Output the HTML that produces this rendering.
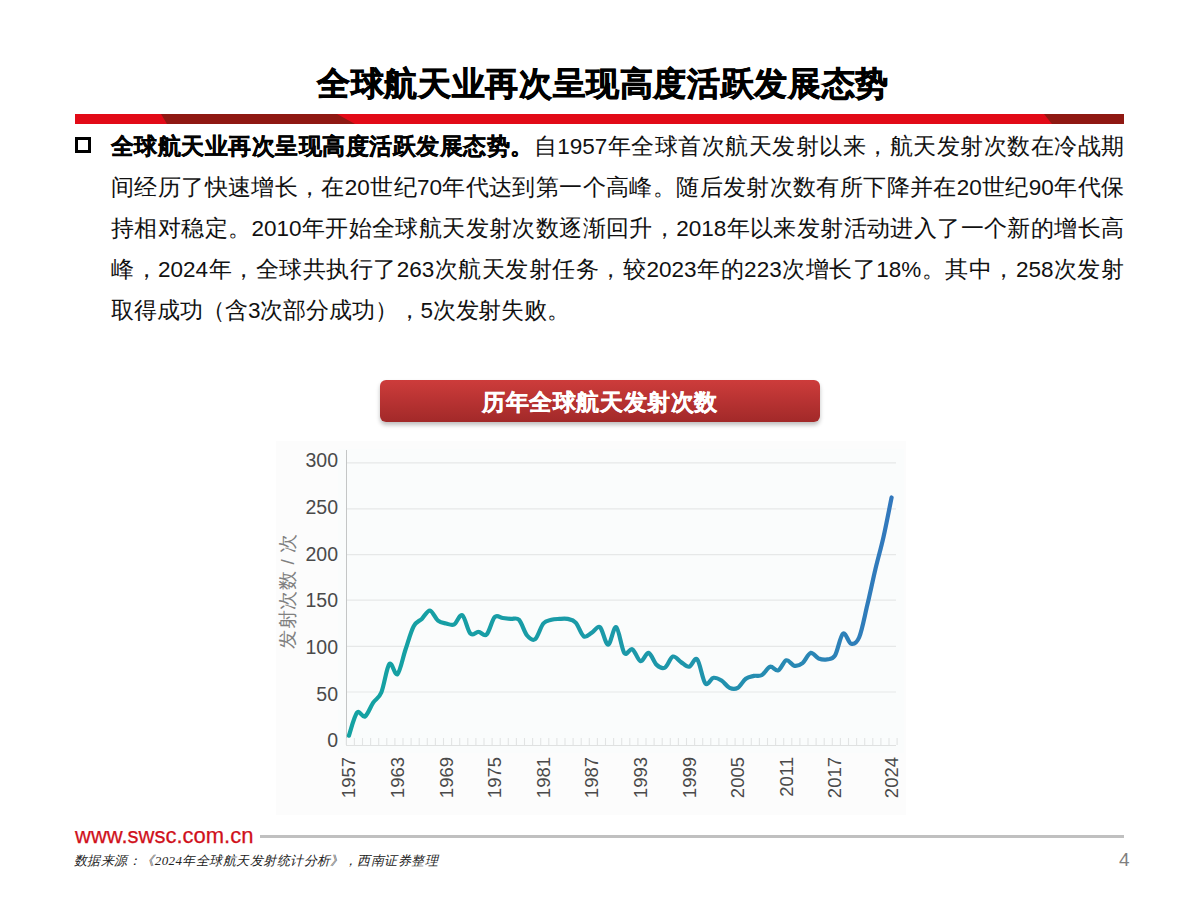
<!DOCTYPE html>
<html><head><meta charset="utf-8">
<style>
html,body{margin:0;padding:0;background:#fff;}
body{width:1200px;height:900px;position:relative;overflow:hidden;font-family:"Liberation Sans",sans-serif;color:#000;}
.abs{position:absolute;}
#title{left:3px;width:1200px;top:59px;text-align:center;font-size:33px;letter-spacing:0.62px;font-weight:bold;line-height:50px;-webkit-text-stroke:0.7px #000;white-space:nowrap;}
#bullet{left:75px;top:137px;width:10px;height:10px;border:3px solid #000;}
.ln{position:absolute;left:111px;width:1013px;font-size:22.5px;line-height:41px;white-space:nowrap;text-align:justify;text-align-last:justify;color:#111;}
.ln b{-webkit-text-stroke:0.35px #000;}
.ln.last{text-align:left;text-align-last:left;}
#cbox{left:380px;top:380px;width:440px;height:42px;border-radius:6px;background:linear-gradient(#cd3c3b,#a22929);box-shadow:0 3px 4px rgba(0,0,0,.25);color:#fff;font-weight:bold;font-size:23px;letter-spacing:0.6px;line-height:44px;-webkit-text-stroke:0.3px #fff;text-align:center;white-space:nowrap;}
#www{left:75px;top:822px;font-size:22px;-webkit-text-stroke:0.25px #d0111b;line-height:28px;color:#d0111b;white-space:nowrap;}
#hr{left:260px;top:835px;width:864px;height:3px;background:#c0c0c0;}
#src{left:74px;top:850px;font-size:13px;letter-spacing:0.45px;line-height:22px;font-style:italic;color:#222;white-space:nowrap;font-family:"Liberation Serif",serif;}
#pg{left:1119px;top:849px;font-size:19px;line-height:22px;color:#7f7f7f;}
</style></head><body>
<div id="title" class="abs">全球航天业再次呈现高度活跃发展态势</div>
<svg class="abs" style="left:0;top:0" width="1200" height="130">
<polygon points="75,114 1124,114 1124,124 75,124" fill="#e20a17"/>
<polygon points="161,114 337,114 355,124 167,124" fill="#8f1812"/>
<polygon points="1044,114 1124,114 1124,124 1052,124" fill="#8f1812"/>
</svg>
<div id="bullet" class="abs"></div>
<div class="ln" style="top:126px"><b>全球航天业再次呈现高度活跃发展态势。</b>自1957年全球首次航天发射以来，航天发射次数在冷战期</div>
<div class="ln" style="top:167px">间经历了快速增长，在20世纪70年代达到第一个高峰。随后发射次数有所下降并在20世纪90年代保</div>
<div class="ln" style="top:208px">持相对稳定。2010年开始全球航天发射次数逐渐回升，2018年以来发射活动进入了一个新的增长高</div>
<div class="ln" style="top:249px">峰，2024年，全球共执行了263次航天发射任务，较2023年的223次增长了18%。其中，258次发射</div>
<div class="ln last" style="top:290px;letter-spacing:-0.15px">取得成功（含3次部分成功），5次发射失败。</div>
<div id="cbox" class="abs">历年全球航天发射次数</div>
<svg class="abs" style="left:0;top:0" width="1200" height="900">
<defs><linearGradient id="lg" gradientUnits="userSpaceOnUse" x1="349" y1="0" x2="892" y2="0">
<stop offset="0" stop-color="#14a2a2"/><stop offset="0.6" stop-color="#1d97aa"/><stop offset="0.85" stop-color="#2a86b5"/><stop offset="1" stop-color="#3278bd"/></linearGradient></defs>
<rect x="276" y="441" width="630" height="374" fill="#fcfcfc"/><rect x="338" y="449" width="566" height="304" fill="#fafcfc"/>
<g stroke="#e6e8e8" stroke-width="1.2">
<line x1="347" y1="692" x2="896" y2="692"/>
<line x1="347" y1="646.3" x2="896" y2="646.3"/>
<line x1="347" y1="600.2" x2="896" y2="600.2"/>
<line x1="347" y1="554.7" x2="896" y2="554.7"/>
<line x1="347" y1="508.8" x2="896" y2="508.8"/>
<line x1="347" y1="462.9" x2="896" y2="462.9"/>
</g>
<line x1="346.5" y1="450" x2="346.5" y2="746" stroke="#c4c6c6" stroke-width="1"/>
<line x1="346" y1="745.5" x2="896" y2="745.5" stroke="#dfe1e1" stroke-width="1.2"/>
<path id="ticks" d="M346.3 738V745 M354.4 738V745 M362.5 738V745 M370.6 738V745 M378.7 738V745 M386.8 738V745 M394.9 738V745 M403.0 738V745 M411.1 738V745 M419.2 738V745 M427.3 738V745 M435.4 738V745 M443.5 738V745 M451.6 738V745 M459.7 738V745 M467.8 738V745 M475.9 738V745 M484.0 738V745 M492.1 738V745 M500.2 738V745 M508.3 738V745 M516.4 738V745 M524.5 738V745 M532.6 738V745 M540.7 738V745 M548.8 738V745 M556.9 738V745 M565.0 738V745 M573.1 738V745 M581.2 738V745 M589.3 738V745 M597.4 738V745 M605.5 738V745 M613.6 738V745 M621.7 738V745 M629.8 738V745 M637.9 738V745 M646.0 738V745 M654.1 738V745 M662.2 738V745 M670.3 738V745 M678.4 738V745 M686.5 738V745 M694.6 738V745 M702.7 738V745 M710.8 738V745 M718.9 738V745 M727.0 738V745 M735.1 738V745 M743.2 738V745 M751.3 738V745 M759.4 738V745 M767.5 738V745 M775.6 738V745 M783.7 738V745 M791.8 738V745 M799.9 738V745 M808.0 738V745 M816.1 738V745 M824.2 738V745 M832.3 738V745 M840.4 738V745 M848.5 738V745 M856.6 738V745 M864.7 738V745 M872.8 738V745 M880.9 738V745 M889.0 738V745 M897.1 738V745" stroke="#e2e4e4" stroke-width="1.1"/>
<g font-size="19.5" fill="#4a4a4a" text-anchor="end">
<text x="338" y="467.2">300</text><text x="338" y="514">250</text><text x="338" y="560.6">200</text><text x="338" y="607.1">150</text><text x="338" y="653.8">100</text><text x="338" y="701">50</text><text x="338" y="746.8">0</text>
</g>
<text transform="translate(293.8,591) rotate(-90)" text-anchor="middle" font-size="19" letter-spacing="0.6" fill="#808080">发射次数 / 次</text>
<g font-size="18.5" fill="#4a4a4a" text-anchor="end"><text transform="translate(348.9,757) rotate(-90)" dy="6.5">1957</text><text transform="translate(397.5,757) rotate(-90)" dy="6.5">1963</text><text transform="translate(446.1,757) rotate(-90)" dy="6.5">1969</text><text transform="translate(494.7,757) rotate(-90)" dy="6.5">1975</text><text transform="translate(543.3,757) rotate(-90)" dy="6.5">1981</text><text transform="translate(591.9,757) rotate(-90)" dy="6.5">1987</text><text transform="translate(640.5,757) rotate(-90)" dy="6.5">1993</text><text transform="translate(689.1,757) rotate(-90)" dy="6.5">1999</text><text transform="translate(737.7,757) rotate(-90)" dy="6.5">2005</text><text transform="translate(786.3,757) rotate(-90)" dy="6.5">2011</text><text transform="translate(834.9,757) rotate(-90)" dy="6.5">2017</text><text transform="translate(891.6,757) rotate(-90)" dy="6.5">2024</text></g>
<path d="M348.9 735.7 C350.2 731.9 354.3 716.0 357.0 712.7 C359.7 709.5 362.4 718.1 365.1 716.4 C367.8 714.7 370.5 706.6 373.2 702.6 C375.9 698.6 378.6 698.9 381.3 692.5 C384.0 686.1 386.7 667.0 389.4 664.0 C392.1 660.9 394.8 676.6 397.5 674.1 C400.2 671.6 402.9 657.2 405.6 649.3 C408.3 641.3 411.0 631.3 413.7 626.3 C416.4 621.2 419.1 621.5 421.8 618.9 C424.5 616.3 427.2 610.3 429.9 610.6 C432.6 610.9 435.3 618.6 438.0 620.7 C440.7 622.9 443.4 622.9 446.1 623.5 C448.8 624.1 451.5 625.8 454.2 624.4 C456.9 623.0 459.6 613.7 462.3 615.2 C465.0 616.8 467.7 630.9 470.4 633.6 C473.1 636.4 475.8 631.6 478.5 631.8 C481.2 631.9 483.9 637.0 486.6 634.5 C489.3 632.1 492.0 619.8 494.7 617.1 C497.4 614.3 500.1 617.7 502.8 618.0 C505.5 618.3 508.2 618.6 510.9 618.9 C513.6 619.2 516.3 617.1 519.0 619.8 C521.7 622.6 524.4 632.2 527.1 635.5 C529.8 638.7 532.5 641.1 535.2 639.1 C537.9 637.1 540.6 626.7 543.3 623.5 C546.0 620.3 548.7 620.6 551.4 619.8 C554.1 619.1 556.8 619.1 559.5 618.9 C562.2 618.7 564.9 618.3 567.6 618.9 C570.3 619.5 573.0 619.7 575.7 622.6 C578.4 625.5 581.1 634.7 583.8 636.4 C586.5 638.1 589.2 634.2 591.9 632.7 C594.6 631.2 597.3 625.2 600.0 627.2 C602.7 629.2 605.4 644.7 608.1 644.7 C610.8 644.7 613.5 625.8 616.2 627.2 C618.9 628.6 621.6 649.3 624.3 652.9 C627.0 656.6 629.7 647.9 632.4 649.3 C635.1 650.6 637.8 660.6 640.5 661.2 C643.2 661.8 645.9 652.3 648.6 652.9 C651.3 653.6 654.0 662.4 656.7 664.9 C659.4 667.4 662.1 669.0 664.8 667.7 C667.5 666.3 670.2 657.5 672.9 656.6 C675.6 655.7 678.3 660.5 681.0 662.1 C683.7 663.8 686.4 667.2 689.1 666.7 C691.8 666.3 694.5 656.6 697.2 659.4 C699.9 662.1 702.6 680.2 705.3 683.3 C708.0 686.4 710.7 678.2 713.4 677.8 C716.1 677.3 718.8 678.9 721.5 680.5 C724.2 682.2 726.9 686.7 729.6 687.9 C732.3 689.1 735.0 689.4 737.7 687.9 C740.4 686.4 743.1 680.7 745.8 678.7 C748.5 676.7 751.2 676.6 753.9 675.9 C756.6 675.3 759.3 676.6 762.0 675.0 C764.7 673.5 767.4 667.5 770.1 666.7 C772.8 666.0 775.5 671.5 778.2 670.4 C780.9 669.3 783.6 661.1 786.3 660.3 C789.0 659.5 791.7 665.4 794.4 665.8 C797.1 666.3 799.8 665.2 802.5 663.1 C805.2 660.9 807.9 653.7 810.6 652.9 C813.3 652.2 816.0 657.4 818.7 658.5 C821.4 659.5 824.1 659.8 826.8 659.4 C829.5 658.9 832.2 660.0 834.9 655.7 C837.6 651.4 840.3 635.6 843.0 633.6 C845.7 631.6 848.4 643.1 851.1 643.7 C853.8 644.4 856.5 643.7 859.2 637.3 C861.9 630.9 864.6 616.4 867.3 605.1 C870.0 593.8 872.7 580.6 875.4 569.2 C878.1 557.9 880.8 549.0 883.5 537.0 C886.2 525.1 890.2 504.1 891.6 497.5" fill="none" stroke="url(#lg)" stroke-width="4.2" stroke-linecap="round" stroke-linejoin="round"/>
</svg>
<div id="www" class="abs">www.swsc.com.cn</div>
<div id="hr" class="abs"></div>
<div id="src" class="abs">数据来源：《2024年全球航天发射统计分析》，西南证券整理</div>
<div id="pg" class="abs">4</div>
</body></html>
